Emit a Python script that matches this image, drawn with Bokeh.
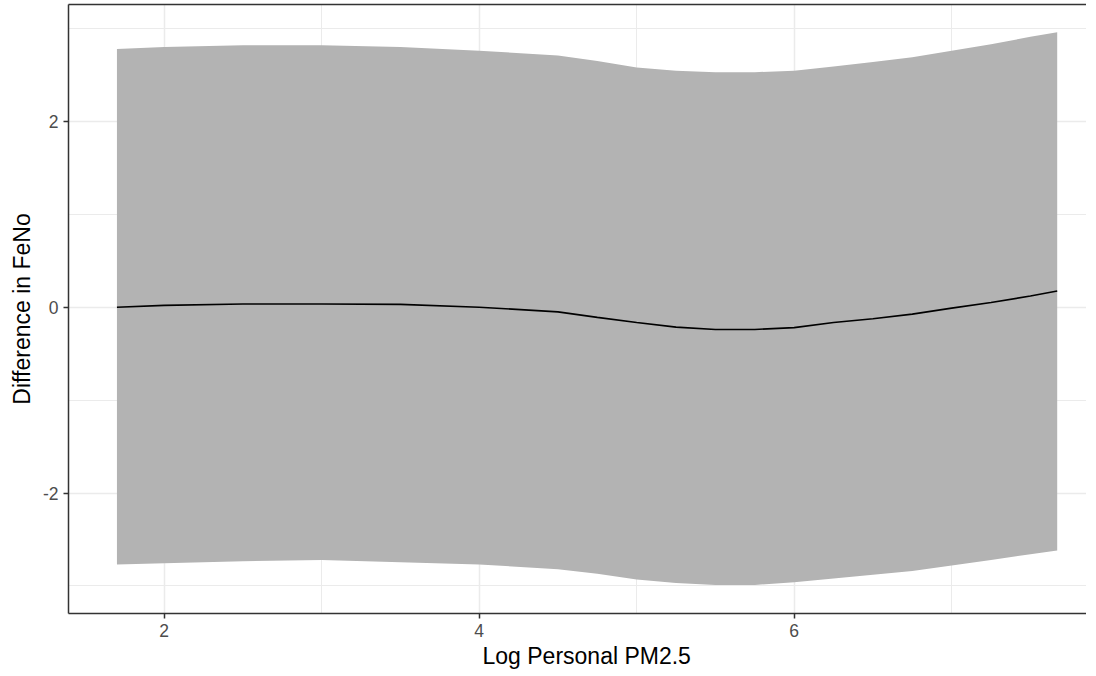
from bokeh.plotting import figure
from bokeh.models import FixedTicker, LinearAxis, Range1d, Title
from bokeh.embed import file_html
from bokeh.resources import INLINE

# Data
x_vals = [1.70, 2.00, 2.50, 3.00, 3.50, 4.00, 4.50, 4.75, 5.00, 5.25,
          5.50, 5.75, 6.00, 6.25, 6.50, 6.75, 7.00, 7.25, 7.50, 7.67]
fit_vals = [0.00, 0.02, 0.035, 0.035, 0.03, 0.00, -0.05, -0.11, -0.165, -0.215,
            -0.24, -0.24, -0.22, -0.165, -0.125, -0.075, -0.01, 0.05, 0.12, 0.175]
upper_vals = [2.78, 2.80, 2.82, 2.82, 2.80, 2.76, 2.71, 2.65, 2.58, 2.545,
              2.53, 2.53, 2.545, 2.59, 2.64, 2.69, 2.76, 2.83, 2.91, 2.96]
lower_vals = [-2.77, -2.755, -2.735, -2.72, -2.745, -2.77, -2.82, -2.87, -2.93, -2.97,
              -2.99, -2.99, -2.96, -2.92, -2.88, -2.84, -2.78, -2.72, -2.66, -2.62]

x_ticks = [2, 4, 6]
x_minor = [3, 5, 7]
y_ticks = [-2, 0, 2]
y_minor = [-3, -1, 1, 3]
y_tick_labels = {-2: "-2", 0: "0", 2: "2"}

FONT = "Liberation Sans"
TICK_COLOR = "#4D4D4D"
BORDER = "#333333"

p = figure(width=1086, height=670, output_backend="svg", toolbar_location=None,
           x_range=Range1d(1.3924, 7.856), y_range=Range1d(-3.297, 3.258),
           min_border_left=68, min_border_right=0, min_border_top=4, min_border_bottom=10)
p.outline_line_color = None
p.background_fill_color = "white"
p.border_fill_color = "white"

# Ribbon and fit line
p.varea(x=x_vals, y1=lower_vals, y2=upper_vals, fill_color="#B3B3B3")
p.line(x=x_vals, y=fit_vals, line_color="black", line_width=1.6)

# Tickers
p.xaxis.ticker = FixedTicker(ticks=x_ticks, minor_ticks=x_minor)
p.yaxis.ticker = FixedTicker(ticks=y_ticks, minor_ticks=y_minor)
p.yaxis.major_label_overrides = y_tick_labels

# Grid
for g in (p.xgrid, p.ygrid):
    g.grid_line_color = "#EBEBEB"
    g.grid_line_width = 1.5
    g.minor_grid_line_color = "#EBEBEB"
    g.minor_grid_line_width = 1.0

# Axes style
for ax in (p.xaxis, p.yaxis):
    ax.axis_line_color = BORDER
    ax.axis_line_width = 1.5
    ax.major_tick_line_color = BORDER
    ax.major_tick_line_width = 1.5
    ax.major_tick_out = 5
    ax.major_tick_in = 0
    ax.minor_tick_out = 0
    ax.minor_tick_in = 0
    ax.major_label_text_font = FONT
    ax.major_label_text_font_size = "17.5px"
    ax.major_label_text_color = TICK_COLOR
    ax.major_label_standoff = 5
    ax.axis_label_text_font = FONT
    ax.axis_label_text_font_size = "23px"
    ax.axis_label_text_font_style = "normal"
    ax.axis_label_text_color = "black"

p.yaxis.axis_label = "Difference in FeNo"
p.yaxis.axis_label_standoff = 5
p.xaxis.axis_label = None

xt = Title(text="Log Personal PM2.5", align="left", offset=414,
           text_font=FONT, text_font_size="23px", text_font_style="normal",
           text_color="black", standoff=3)
p.add_layout(xt, "below")

# Top border as an axis line without ticks
top = LinearAxis(ticker=FixedTicker(ticks=[]), axis_line_color=BORDER, axis_line_width=1.5,
                 major_tick_out=0, major_tick_in=0, minor_tick_out=0, minor_tick_in=0,
                 major_label_text_font_size="0px")
p.add_layout(top, "above")

open("out.html", "w").write(file_html(p, INLINE))
